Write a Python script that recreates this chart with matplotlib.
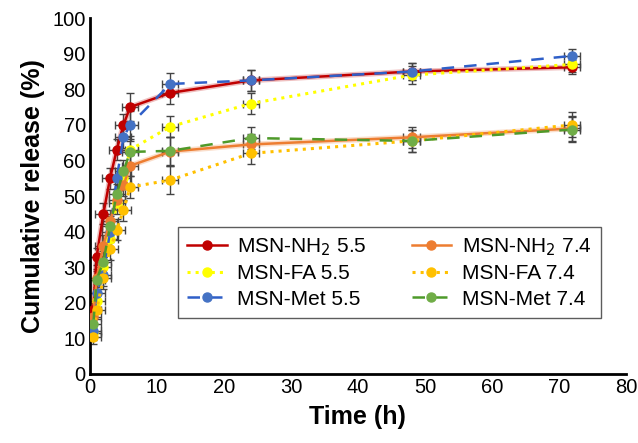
import matplotlib
matplotlib.use("Agg")
import matplotlib.pyplot as plt
import numpy as np

plt.rcParams['font.family'] = ['Liberation Sans', 'DejaVu Sans']

time_h = [0.5, 1, 2, 3, 4, 5, 6, 12, 24, 48, 72]

nh2_55 = [18, 33, 45, 55, 63, 70, 75, 79, 82.5, 85, 86.2]
nh2_74 = [16, 27, 36, 43, 49, 53, 58.5, 62.5, 64.5, 66.5, 69]
fa_55 = [11.5, 20.5, 30, 38, 48, 55, 63, 69.5, 76, 84, 87]
fa_74 = [10.5, 18, 27, 35, 40.5, 46, 52.5, 54.5, 62, 65.5, 70]
met_55 = [12, 22.7, 27.8, 40, 55, 66.5, 70, 81.5, 82.5, 85, 89.4]
met_74 = [14, 26.5, 31.5, 41.5, 50.5, 57, 62.4, 62.7, 66.3, 65.5, 68.7]

yerr_55 = [2, 2.5, 3, 3, 3, 3, 4, 3, 3, 2.5, 2]
yerr_74 = [2, 2.5, 3, 3, 3, 3, 3, 4, 3, 3, 3.5]
xerr = 1.2

labels = ['MSN-NH$_2$ 5.5', 'MSN-NH$_2$ 7.4', 'MSN-FA 5.5', 'MSN-FA 7.4',
          'MSN-Met 5.5', 'MSN-Met 7.4']

series = [
    (nh2_55, labels[0], '#C00000', '#C00000', '-', yerr_55),
    (fa_55, labels[2], '#FFFF00', '#FFFF00', ':', yerr_55),
    (met_55, labels[4], '#2F5FC8', '#4472C4', (0, (5, 4)), yerr_55),
    (nh2_74, labels[1], '#ED7D31', '#ED7D31', '-', yerr_74),
    (fa_74, labels[3], '#FFC000', '#FFC000', ':', yerr_74),
    (met_74, labels[5], '#4E9A2A', '#70AD47', (0, (5, 4)), yerr_74),
]

fig = plt.figure(figsize=(6.38, 4.43), dpi=100)
ax = fig.add_axes([0.141, 0.156, 0.84, 0.803])

handles = {}
for vals, lab, lc, mc, ls, ye in series:
    ax.errorbar(time_h, vals, yerr=ye, xerr=xerr, fmt='none', ecolor='#444444',
                elinewidth=1.0, capsize=3, capthick=1.0, zorder=2)
for vals, lab, lc, mc, ls, ye in series:
    if ls == '-':
        ax.plot(time_h, vals, color=lc, lw=4, alpha=0.25, zorder=3, solid_capstyle='round')
    lw = 2.2 if ls == ':' else 1.8
    h, = ax.plot(time_h, vals, color=lc, lw=lw, linestyle=ls, marker='o',
                 markersize=6.5, markerfacecolor=mc, markeredgecolor=mc, zorder=4, label=lab)
    handles[lab] = h

ax.set_xlim(0, 80)
ax.set_ylim(0, 100)
ax.set_xticks(range(0, 81, 10))
ax.set_yticks(range(0, 101, 10))
ax.tick_params(axis='both', length=0, labelsize=14.5, pad=3)
for s in ['top', 'right']:
    ax.spines[s].set_visible(False)
for s in ['left', 'bottom']:
    ax.spines[s].set_linewidth(2)
ax.set_xlabel('Time (h)', fontsize=18, fontweight='bold', labelpad=6)
ax.set_ylabel('Cumulative release (%)', fontsize=18, fontweight='bold', labelpad=5)

order = [labels[0], labels[2], labels[4], labels[1], labels[3], labels[5]]
leg = ax.legend([handles[l] for l in order], order, ncol=2, loc='lower left',
                bbox_to_anchor=(0.164, 0.157, 0.789, 0.287), mode='expand',
                fontsize=15, frameon=True, fancybox=False, edgecolor='#333333',
                handlelength=1.9, handletextpad=0.5, borderaxespad=0,
                labelspacing=0.3, columnspacing=0.8, borderpad=0.45)
leg.get_frame().set_linewidth(1.0)

fig.savefig('out.png', dpi=100)
